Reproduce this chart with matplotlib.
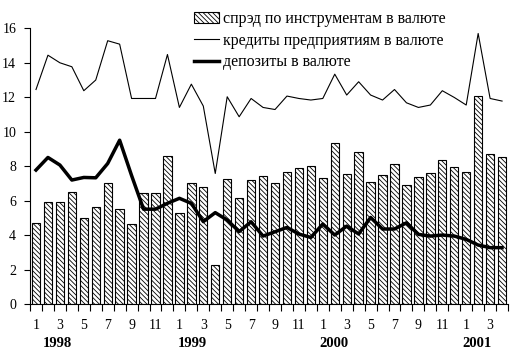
import numpy as np
import matplotlib.pyplot as plt
from matplotlib import transforms

plt.rcParams['font.family'] = ['Liberation Serif', 'DejaVu Serif']
plt.rcParams['hatch.linewidth'] = 0.6

# months Jan 1998 .. Apr 2001
month_labels = ['1', '', '3', '', '5', '', '7', '', '9', '', '11', '',
                '1', '', '3', '', '5', '', '7', '', '9', '', '11', '',
                '1', '', '3', '', '5', '', '7', '', '9', '', '11', '',
                '1', '', '3', '']
years = ['1998', '1999', '2000', '2001']
year_pos = [1.8, 13.1, 24.9, 36.9]

# спрэд по инструментам в валюте
spread = [4.68, 5.93, 5.89, 6.51, 4.97, 5.64, 7.0, 5.49, 4.62, 6.42, 6.42, 8.6,
          5.26, 7.0, 6.76, 2.24, 7.23, 6.13, 7.19, 7.42, 7.0, 7.63, 7.86, 8.0,
          7.28, 9.32, 7.52, 8.79, 7.05, 7.48, 8.1, 6.9, 7.34, 7.57, 8.33, 7.94,
          7.63, 12.06, 8.68, 8.52]
# кредиты предприятиям в валюте
credits = [12.44, 14.43, 13.99, 13.76, 12.37, 12.99, 15.27, 15.07, 11.92, 11.92, 11.92, 14.47,
           11.4, 12.75, 11.48, 7.57, 12.02, 10.86, 11.92, 11.4, 11.28, 12.06, 11.92, 11.83,
           11.92, 13.33, 12.12, 12.89, 12.12, 11.83, 12.44, 11.67, 11.4, 11.54, 12.37, 11.98,
           11.54, 15.69, 11.92, 11.77]
# депозиты в валюте
deposits = [7.77, 8.5, 8.06, 7.19, 7.34, 7.32, 8.15, 9.5, 7.45, 5.5, 5.5, 5.84,
            6.13, 5.84, 4.78, 5.3, 4.87, 4.2, 4.77, 3.94, 4.19, 4.44, 4.06, 3.86,
            4.64, 4.0, 4.52, 4.06, 5.02, 4.35, 4.35, 4.71, 4.04, 3.94, 4.0, 3.94,
            3.75, 3.42, 3.27, 3.27]

x = np.arange(len(spread))

fig = plt.figure(figsize=(5.14, 3.56), dpi=100)
ax = fig.add_axes([0.0584, 0.146, 0.93, 0.775])

b = ax.bar(x, spread, width=0.7, color='white', edgecolor='black', linewidth=0.8,
           hatch='\\\\\\\\\\\\\\', label='спрэд по инструментам в валюте')
l1, = ax.plot(x, credits, color='black', lw=0.8, label='кредиты предприятиям в валюте')
l2, = ax.plot(x, deposits, color='black', lw=2.5, label='депозиты в валюте')

ax.set_xlim(-0.5, len(x) - 0.5)
ax.set_ylim(0, 16)
ax.set_yticks(np.arange(0, 17, 2))
ax.tick_params(axis='y', direction='out', length=4, width=0.8, labelsize=10, pad=6)

ax.set_xticks(np.arange(-0.5, len(x), 1))
ax.set_xticklabels([])
ax.tick_params(axis='x', which='major', direction='out', length=5, width=0.8)
ax.set_xticks(x, minor=True)
ax.set_xticklabels(month_labels, minor=True)
ax.tick_params(axis='x', which='minor', length=0, labelsize=10, pad=11)

for s in ['top', 'right']:
    ax.spines[s].set_visible(False)
ax.spines['left'].set_linewidth(0.8)
ax.spines['bottom'].set_linewidth(0.8)

trans = transforms.blended_transform_factory(ax.transData, fig.transFigure)
for yr, xp in zip(years, year_pos):
    ax.text(xp, 0.035, yr, transform=trans, ha='center', va='center',
            fontsize=10.5, fontweight='bold')

leg = ax.legend([b, l1, l2], [b.get_label(), l1.get_label(), l2.get_label()],
                loc='upper left', bbox_to_anchor=(0.33, 1.085), frameon=False,
                fontsize=11.5, handlelength=1.55, handleheight=0.6,
                handletextpad=0.25, labelspacing=0.35, borderaxespad=0)

fig.savefig('out.png', dpi=100)
